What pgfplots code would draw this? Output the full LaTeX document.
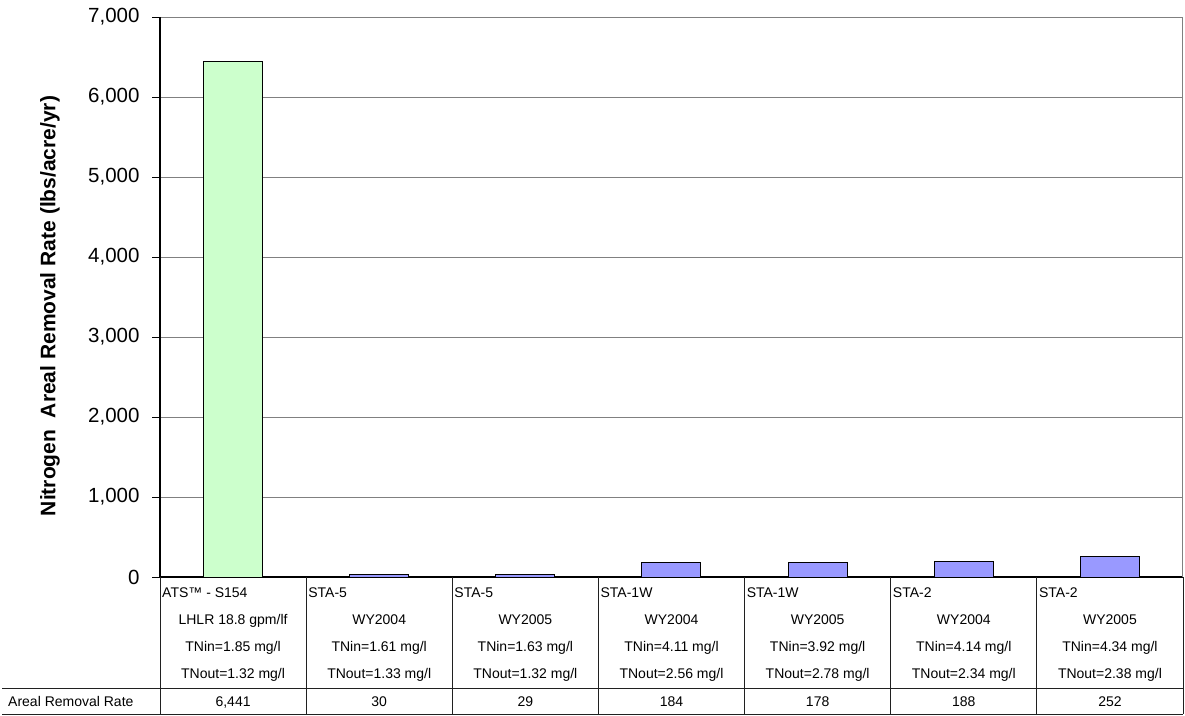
\documentclass[border=0pt]{standalone}
\usepackage{pgfplots}
\pgfplotsset{compat=1.18}
\usepackage{pgfplotstable}
\usepackage{fontspec}
\setmainfont{Liberation Sans}

\definecolor{barGreen}{HTML}{CCFFCC}
\definecolor{barBlue}{HTML}{9999FF}
\definecolor{gridGray}{HTML}{808080}
\definecolor{tableLine}{HTML}{202020}

\pgfkeys{/pgf/number format/assume math mode=true}

% areal nitrogen removal rate per site (lbs/acre/yr)
\pgfplotstableread{
x val
0 6441
1 30
2 29
3 184
4 178
5 188
6 252
}\removal

\newcommand\tabfont{\fontsize{14}{16}\selectfont}
% column geometry of the data table below the plot
\newcommand\colw{146.142857}
\newcommand\cat[5]{%
  \node[anchor=base west, inner sep=0, font=\tabfont] at (160+#1*\colw+2,118) {#2};
  \node[anchor=base, inner sep=0, font=\tabfont] at (160+#1*\colw+0.5*\colw,91) {#3};
  \node[anchor=base, inner sep=0, font=\tabfont] at (160+#1*\colw+0.5*\colw,64) {#4};
  \node[anchor=base, inner sep=0, font=\tabfont] at (160+#1*\colw+0.5*\colw,37) {#5};
}

\begin{document}
\begin{tikzpicture}[x=1pt,y=1pt]
\useasboundingbox (0,0) rectangle (1185,715);
\begin{axis}[
  at={(160pt,138pt)}, anchor=south west,
  scale only axis, width=1023pt, height=560pt,
  xmin=-0.5, xmax=6.5, ymin=0, ymax=7000,
  xtick=\empty,
  ytick={0,1000,...,7000},
  ymajorgrids,
  grid style={gridGray, line width=1pt},
  axis x line*=bottom, axis y line*=left,
  axis line style={black, line width=1.2pt, -},
  tick align=outside, major tick length=8pt,
  tick style={black, line width=1pt},
  y tick label style={font=\fontsize{20.5}{24}\selectfont, xshift=-9pt},
  /pgf/number format/1000 sep={,},
  ylabel={Nitrogen\ \ Areal Removal Rate (lbs/acre/yr)},
  ylabel style={font=\bfseries\fontsize{21}{24}\selectfont,
    at={(axis description cs:-0.1075,0.484)}, anchor=center},
]
\addplot[ybar, bar width=59pt, fill=barGreen, draw=black, line width=1pt,
  restrict x to domain=-0.1:0.1] table[x=x, y=val] {\removal};
\addplot[ybar, bar width=59pt, fill=barBlue, draw=black, line width=1pt,
  restrict x to domain=0.9:6.1] table[x=x, y=val] {\removal};
\draw[gridGray, line width=1pt] (rel axis cs:1,0) -- (rel axis cs:1,1);
\end{axis}

% data table
\draw[tableLine, line width=1pt] (2,27) -- (1183,27);
\draw[tableLine, line width=1pt] (2,1) -- (1183,1);
\foreach \k in {0,...,7}
  \draw[tableLine, line width=1pt] (160+\k*\colw,138) -- (160+\k*\colw,1);

\cat{0}{ATS™ - S154}{LHLR 18.8 gpm/lf}{TNin=1.85 mg/l}{TNout=1.32 mg/l}
\cat{1}{STA-5}{WY2004}{TNin=1.61 mg/l}{TNout=1.33 mg/l}
\cat{2}{STA-5}{WY2005}{TNin=1.63 mg/l}{TNout=1.32 mg/l}
\cat{3}{STA-1W}{WY2004}{TNin=4.11 mg/l}{TNout=2.56 mg/l}
\cat{4}{STA-1W}{WY2005}{TNin=3.92 mg/l}{TNout=2.78 mg/l}
\cat{5}{STA-2}{WY2004}{TNin=4.14 mg/l}{TNout=2.34 mg/l}
\cat{6}{STA-2}{WY2005}{TNin=4.34 mg/l}{TNout=2.38 mg/l}

\node[anchor=base west, inner sep=0, font=\tabfont] at (8,9) {Areal Removal Rate};
\foreach \i in {0,...,6}{
  \pgfplotstablegetelem{\i}{val}\of\removal
  \node[anchor=base, inner sep=0, font=\tabfont]
    at (160+\i*\colw+0.5*\colw,9) {\pgfmathprintnumber[1000 sep={,}]{\pgfplotsretval}};
}
\end{tikzpicture}
\end{document}
